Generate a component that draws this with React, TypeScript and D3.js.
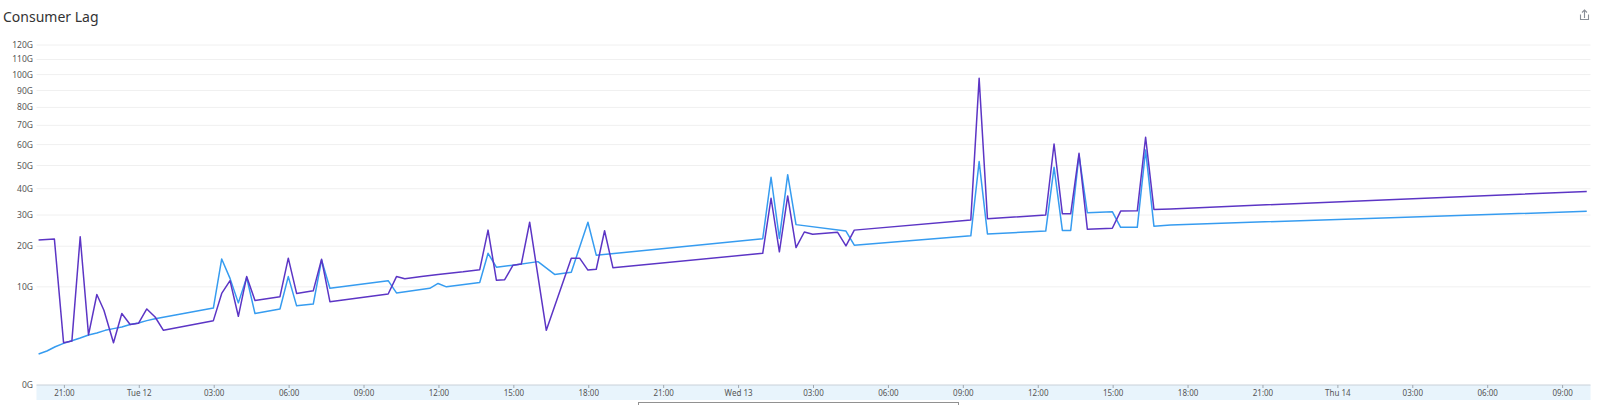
import React from "react";
import * as d3 from "d3";

const purpleTimes = [
  "2024-03-11 19:58", "2024-03-11 20:36", "2024-03-11 20:58", "2024-03-11 21:18", "2024-03-11 21:38",
  "2024-03-11 21:58", "2024-03-11 22:18", "2024-03-11 22:35", "2024-03-11 22:58", "2024-03-11 23:18",
  "2024-03-11 23:38", "2024-03-11 23:58", "2024-03-12 00:18", "2024-03-12 00:38", "2024-03-12 00:58",
  "2024-03-12 02:58", "2024-03-12 03:18", "2024-03-12 03:38", "2024-03-12 03:58", "2024-03-12 04:18",
  "2024-03-12 04:38", "2024-03-12 05:38", "2024-03-12 05:58", "2024-03-12 06:18", "2024-03-12 06:58",
  "2024-03-12 07:18", "2024-03-12 07:38", "2024-03-12 09:58", "2024-03-12 10:18", "2024-03-12 10:38",
  "2024-03-12 11:18", "2024-03-12 11:58", "2024-03-12 12:58", "2024-03-12 13:38", "2024-03-12 13:58",
  "2024-03-12 14:18", "2024-03-12 14:38", "2024-03-12 14:58", "2024-03-12 15:18", "2024-03-12 15:38",
  "2024-03-12 16:18", "2024-03-12 17:18", "2024-03-12 17:38", "2024-03-12 17:58", "2024-03-12 18:18",
  "2024-03-12 18:38", "2024-03-12 18:58", "2024-03-13 00:58", "2024-03-13 01:18", "2024-03-13 01:38",
  "2024-03-13 01:58", "2024-03-13 02:18", "2024-03-13 02:38", "2024-03-13 02:58", "2024-03-13 03:58",
  "2024-03-13 04:18", "2024-03-13 04:38", "2024-03-13 09:18", "2024-03-13 09:38", "2024-03-13 09:58",
  "2024-03-13 12:18", "2024-03-13 12:38", "2024-03-13 12:58", "2024-03-13 13:18", "2024-03-13 13:38",
  "2024-03-13 13:58", "2024-03-13 14:58", "2024-03-13 15:18", "2024-03-13 15:58", "2024-03-13 16:18",
  "2024-03-13 16:38", "2024-03-13 17:18", "2024-03-14 09:58",
];
const purpleValues = [
  21.8, 22.1, 1.86, 2.0, 22.8,
  2.6, 8.5, 5.8, 1.86, 5.3,
  3.8, 3.95, 6.0, 4.8, 3.1,
  4.3, 8.7, 11.3, 4.9, 12.2,
  7.4, 8.1, 16.7, 8.7, 9.2,
  16.4, 7.2, 8.6, 12.2, 11.7,
  12.2, 12.7, 13.3, 13.8, 24.9,
  11.4, 11.5, 14.9, 15.2, 27.5,
  3.1, 16.7, 16.7, 13.7, 13.9,
  24.7, 14.3, 18.0, 36.2, 18.4,
  37.1, 19.6, 24.3, 23.6, 24.2,
  20.1, 24.9, 28.3, 97.6, 28.7,
  30.0, 60.3, 30.4, 30.4, 55.7,
  25.2, 25.5, 31.4, 31.5, 63.7,
  32.0, 32.2, 38.9,
];

const blueTimes = [
  "2024-03-11 19:58", "2024-03-11 20:18", "2024-03-11 20:38", "2024-03-11 20:58", "2024-03-11 21:18",
  "2024-03-11 21:38", "2024-03-11 21:58", "2024-03-11 22:18", "2024-03-11 22:38", "2024-03-11 22:58",
  "2024-03-11 23:18", "2024-03-11 23:38", "2024-03-11 23:58", "2024-03-12 00:18", "2024-03-12 00:38",
  "2024-03-12 02:58", "2024-03-12 03:18", "2024-03-12 03:38", "2024-03-12 03:58", "2024-03-12 04:18",
  "2024-03-12 04:38", "2024-03-12 05:38", "2024-03-12 05:58", "2024-03-12 06:18", "2024-03-12 06:58",
  "2024-03-12 07:18", "2024-03-12 07:38", "2024-03-12 09:58", "2024-03-12 10:18", "2024-03-12 11:38",
  "2024-03-12 11:58", "2024-03-12 12:18", "2024-03-12 13:38", "2024-03-12 13:58", "2024-03-12 14:18",
  "2024-03-12 14:58", "2024-03-12 15:58", "2024-03-12 16:38", "2024-03-12 17:18", "2024-03-12 17:58",
  "2024-03-12 18:18", "2024-03-13 00:58", "2024-03-13 01:18", "2024-03-13 01:38", "2024-03-13 01:58",
  "2024-03-13 02:18", "2024-03-13 04:18", "2024-03-13 04:38", "2024-03-13 09:18", "2024-03-13 09:38",
  "2024-03-13 09:58", "2024-03-13 12:18", "2024-03-13 12:38", "2024-03-13 12:58", "2024-03-13 13:18",
  "2024-03-13 13:38", "2024-03-13 13:58", "2024-03-13 14:58", "2024-03-13 15:18", "2024-03-13 15:58",
  "2024-03-13 16:18", "2024-03-13 16:38", "2024-03-13 17:18", "2024-03-14 09:58",
];
const blueValues = [
  1.0, 1.2, 1.52, 1.8, 2.04,
  2.3, 2.6, 2.8, 3.1, 3.3,
  3.5, 3.8, 4.0, 4.3, 4.56,
  6.15, 16.5, 11.8, 7.0, 12.0,
  5.3, 6.0, 12.2, 6.5, 6.8,
  16.2, 9.7, 11.3, 8.8, 9.7,
  10.7, 10.0, 10.9, 18.0, 14.4,
  14.9, 15.8, 12.7, 13.2, 27.5,
  17.5, 22.2, 44.8, 22.3, 45.9,
  26.7, 24.6, 20.3, 23.1, 51.8,
  23.7, 24.6, 49.2, 24.8, 24.8,
  54.9, 30.8, 31.2, 25.8, 25.8,
  57.3, 26.2, 26.6, 31.3,
];

const yTicks = [0, 10, 20, 30, 40, 50, 60, 70, 80, 90, 100, 110, 120];

const W = 1600;
const H = 405;
const left = 36.5;
const right = 1590.5;
const top = 45;
const bottom = 385;
const font = "'Noto Sans', 'Open Sans', sans-serif";

const parse = d3.timeParse("%Y-%m-%d %H:%M");

type Pt = { t: Date; v: number };
const toPoints = (times: string[], values: number[]): Pt[] =>
  times.map((s, i) => ({ t: parse(s) as Date, v: values[i] }));

const purple = toPoints(purpleTimes, purpleValues);
const blue = toPoints(blueTimes, blueValues);

const x = d3
  .scaleTime()
  .domain([new Date(2024, 2, 11, 19, 53), new Date(2024, 2, 14, 10, 7)])
  .range([left, right]);

const y = d3.scaleSqrt().domain([0, 120]).range([bottom, top]);

const line = d3
  .line<Pt>()
  .x((d) => x(d.t))
  .y((d) => y(d.v));

const fmtTick = (d: Date) =>
  d.getHours() === 0 ? d3.timeFormat("%a %d")(d) : d3.timeFormat("%H:%M")(d);

const App: React.FC = () => {
  const xTicks = x.ticks(d3.timeHour.every(3)!);
  return (
    <div style={{ position: "absolute", left: 0, top: 0 }}>
      <svg width={W} height={H} style={{ display: "block", background: "#fff" }}>
        <text x={3} y={22} fontSize={14} fill="#333" fontFamily={font}>
          Consumer Lag
        </text>

        {/* share icon */}
        <g stroke="#8a8f98" strokeWidth={1.1} fill="none">
          <path d="M1580.5,14.5 v5 h8 v-5" />
          <path d="M1584.5,18 v-8 M1582,12.5 l2.5,-2.5 l2.5,2.5" />
        </g>

        {/* grid + y labels */}
        {yTicks.map((t) => (
          <g key={t}>
            {t > 0 && (
              <line x1={left} x2={right} y1={y(t)} y2={y(t)} stroke="#f0f0f0" strokeWidth={1} />
            )}
            <text
              x={33}
              y={y(t)}
              dy="0.35em"
              textAnchor="end"
              fontSize={8.5}
              fill="#555"
              fontFamily={font}
            >
              {t}G
            </text>
          </g>
        ))}

        {/* x axis band */}
        <rect x={left} y={bottom} width={right - left} height={15} fill="#e8f4fc" />
        <line x1={left} x2={right} y1={bottom} y2={bottom} stroke="#c8d0d8" strokeWidth={1} />
        {xTicks.map((d) => (
          <g key={+d} transform={`translate(${x(d)},0)`}>
            <line y1={bottom} y2={bottom + 3} stroke="#a0a8b0" />
            <text
              y={395.5}
              textAnchor="middle"
              fontSize={8}
              fill="#555"
              fontFamily={font}
            >
              {fmtTick(d)}
            </text>
          </g>
        ))}

        <defs>
          <clipPath id="plot-clip">
            <rect x={left} y={0} width={right - left} height={bottom} />
          </clipPath>
        </defs>
        <g clipPath="url(#plot-clip)">
          <path d={line(blue) ?? ""} fill="none" stroke="#369cf0" strokeWidth={1.5} strokeLinejoin="round" />
          <path d={line(purple) ?? ""} fill="none" stroke="#5c35c5" strokeWidth={1.5} strokeLinejoin="round" />
        </g>

        {/* focus outline of the range selector */}
        <rect
          x={638.5}
          y={402.5}
          width={320}
          height={10}
          fill="none"
          stroke="#222"
          strokeWidth={1}
          strokeDasharray="1 1"
        />
      </svg>
    </div>
  );
};

export default App;
